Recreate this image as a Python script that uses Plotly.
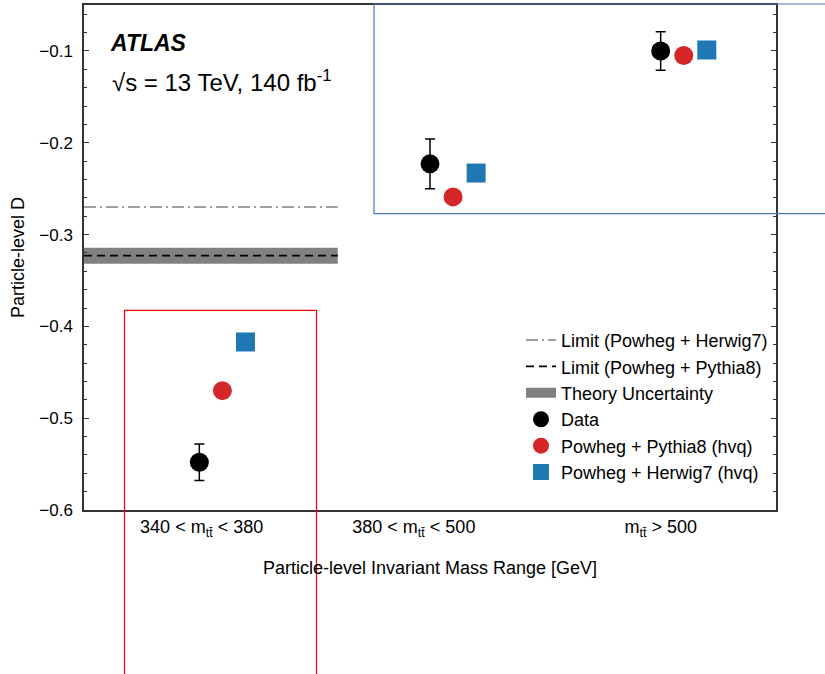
import plotly.graph_objects as go

# Mass bins and measured / predicted entanglement observable D
bin_labels = ["340 < m<sub>tt̄</sub> < 380", "380 < m<sub>tt̄</sub> < 500", "m<sub>tt̄</sub> > 500"]
bin_pos = [0, 1, 2]
label_pos = [0.01, 0.93, 2.0]

data_d = [-0.548, -0.223, -0.100]
data_err = [0.020, 0.027, 0.021]
pythia_d = [-0.470, -0.259, -0.105]
herwig_d = [-0.417, -0.233, -0.099]

# Entanglement limits (drawn over the lowest mass bin)
limit_herwig = -0.270
limit_pythia = -0.323
limit_unc = 0.0087
limit_x = [-0.5, 0.6]

offset_pythia = 0.1
offset_herwig = 0.2

FONT = "Liberation Sans, Arial, Helvetica, sans-serif"
RED = "#d62728"
BLUE = "#1f77b4"
GREY = "#808080"

fig = go.Figure()

# Theory uncertainty band around the Pythia8 limit
lo, hi = limit_pythia - limit_unc, limit_pythia + limit_unc
fig.add_trace(go.Scatter(
    x=[limit_x[0], limit_x[1], limit_x[1], limit_x[0], limit_x[0]],
    y=[lo, lo, hi, hi, lo],
    fill="toself", fillcolor=GREY, mode="lines",
    line=dict(width=0, color=GREY),
    showlegend=False, hoverinfo="skip",
))
# legend swatch for the band
fig.add_trace(go.Scatter(
    x=[None], y=[None], mode="lines",
    line=dict(width=10, color=GREY),
    name="Theory Uncertainty", legendrank=3,
))

fig.add_trace(go.Scatter(
    x=limit_x, y=[limit_herwig, limit_herwig], mode="lines",
    line=dict(color=GREY, width=1.6, dash="12px,4px,2px,4px"),
    name="Limit (Powheg + Herwig7)", legendrank=1,
))
fig.add_trace(go.Scatter(
    x=limit_x, y=[limit_pythia, limit_pythia], mode="lines",
    line=dict(color="black", width=1.8, dash="8px,5px"),
    name="Limit (Powheg + Pythia8)", legendrank=2,
))

fig.add_trace(go.Scatter(
    x=bin_pos, y=data_d, mode="markers",
    marker=dict(color="black", size=19, symbol="circle"),
    error_y=dict(type="data", array=data_err, visible=True,
                 color="black", thickness=1.5, width=5),
    name="Data", legendrank=4,
))
fig.add_trace(go.Scatter(
    x=[p + offset_pythia for p in bin_pos], y=pythia_d, mode="markers",
    marker=dict(color=RED, size=19, symbol="circle"),
    name="Powheg + Pythia8 (hvq)", legendrank=5,
))
fig.add_trace(go.Scatter(
    x=[p + offset_herwig for p in bin_pos], y=herwig_d, mode="markers",
    marker=dict(color=BLUE, size=19, symbol="square"),
    name="Powheg + Herwig7 (hvq)", legendrank=6,
))

L, R, T, B = 84, 49, 4.5, 163.5
W, H = 825, 674
pw, ph = W - L - R, H - T - B


def px(xp):
    return (xp - L) / pw


def py(yp):
    return (H - B - yp) / ph


fig.update_layout(
    width=W, height=H,
    margin=dict(l=L, r=R, t=T, b=B, pad=0),
    paper_bgcolor="white", plot_bgcolor="white",
    font=dict(family=FONT, size=17, color="black"),
    showlegend=True,
    legend=dict(
        x=px(521), y=py(322), xanchor="left", yanchor="top",
        bgcolor="rgba(0,0,0,0)", borderwidth=0,
        font=dict(family=FONT, size=18, color="black"),
        itemsizing="trace", tracegroupgap=0,
    ),
    xaxis=dict(
        range=[-0.5, 2.5], tickmode="array", tickvals=label_pos, ticktext=bin_labels,
        ticks="", showgrid=False, zeroline=False,
        showline=True, linecolor="#333333", linewidth=1.5, mirror=True,
        tickfont=dict(size=18), ticklabelstandoff=0,
        title=dict(text="Particle-level Invariant Mass Range [GeV]",
                   font=dict(size=18), standoff=22),
    ),
    yaxis=dict(
        range=[-0.6, -0.05], tickmode="array",
        tickvals=[-0.6, -0.5, -0.4, -0.3, -0.2, -0.1],
        ticktext=["−0.6", "−0.5", "−0.4", "−0.3", "−0.2", "−0.1"],
        ticks="inside", ticklen=5, tickwidth=1.2, tickcolor="#333333",
        minor=dict(dtick=0.02, tick0=0, ticks="inside", ticklen=3,
                   tickwidth=1, tickcolor="#333333"),
        showgrid=False, zeroline=False,
        showline=True, linecolor="#333333", linewidth=1.5, mirror="allticks",
        tickfont=dict(size=17), ticklabelstandoff=6,
        title=dict(text="Particle-level D", font=dict(size=18), standoff=10),
    ),
)

fig.add_annotation(
    x=px(108), y=py(43), xref="paper", yref="paper", xanchor="left", yanchor="middle",
    text="<b><i>ATLAS</i></b>", showarrow=False,
    font=dict(family=FONT, size=23, color="black"),
)
fig.add_annotation(
    x=px(110), y=py(81), xref="paper", yref="paper", xanchor="left", yanchor="middle",
    text="√s = 13 TeV, 140 fb<sup>-1</sup>", showarrow=False,
    font=dict(family=FONT, size=24, color="black"),
)

# Highlight boxes
fig.add_shape(type="rect", xref="paper", yref="paper",
              x0=px(124.5), x1=px(316.5), y0=py(680), y1=py(310.5),
              line=dict(color="#ff0000", width=1.2), fillcolor="rgba(0,0,0,0)")
fig.add_shape(type="rect", xref="paper", yref="paper",
              x0=px(374), x1=px(830), y0=py(213.5), y1=py(3.5),
              line=dict(color="#4a78c0", width=1.2), fillcolor="rgba(0,0,0,0)")

fig.write_html("out.html")
